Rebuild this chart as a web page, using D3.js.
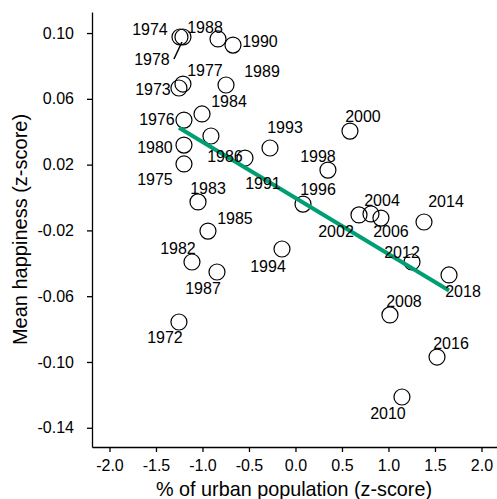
<!DOCTYPE html>
<html lang="en">
<head>
<meta charset="UTF-8">
<title>Urbanization and happiness</title>
<script src="https://d3js.org/d3.v7.min.js"></script>
<style>
  body { margin: 0; padding: 0; background: #fff; }
  svg { display: block; font-family: "Liberation Sans", Arial, sans-serif; }
  .axis path, .axis line { stroke: #000; stroke-width: 1.3; }
  .axis text { fill: #000; font-size: 16px; }
  .pt { fill: none; stroke: #000; stroke-width: 1.2; }
  .yr { font-size: 16px; fill: #000; }
</style>
</head>
<body>
<div id="chart"></div>
<script>
// survey years with urban population z-score and mean happiness z-score
const years = [1972, 1973, 1974, 1975, 1976, 1977, 1978, 1980, 1982, 1983, 1984,
  1985, 1986, 1987, 1988, 1989, 1990, 1991, 1993, 1994, 1996, 1998, 2000, 2002,
  2004, 2006, 2008, 2010, 2012, 2014, 2016, 2018];
const urban = [-1.253, -1.253, -1.242, -1.199, -1.199, -1.210, -1.210, -1.199, -1.113,
  -1.048, -1.005, -0.941, -0.909, -0.844, -0.833, -0.747, -0.672, -0.543, -0.274,
  -0.145, 0.081, 0.349, 0.586, 0.683, 0.812, 0.919, 1.016, 1.145, 1.253, 1.382,
  1.522, 1.651];
const happiness = [-0.0757, 0.0666, 0.0976, 0.0204, 0.0471, 0.0690, 0.0976, 0.0319,
  -0.0392, -0.0027, 0.0508, -0.0204, 0.0374, -0.0453, 0.0964, 0.0684, 0.0927,
  0.0240, 0.0301, -0.0313, -0.0040, 0.0167, 0.0404, -0.0106, -0.0100, -0.0125,
  -0.0714, -0.1213, -0.0392, -0.0149, -0.0970, -0.0471];
const xTicks = [-2.0, -1.5, -1.0, -0.5, 0.0, 0.5, 1.0, 1.5, 2.0];
const yTicks = [0.10, 0.06, 0.02, -0.02, -0.06, -0.10, -0.14];

// label placement (pixel offsets from each point, like ggrepel put them)
const labelPos = {
  1972: [-14, 15], 1973: [-26, 1], 1974: [-30, -8], 1975: [-29, 15], 1976: [-27, -1],
  1977: [22, -14], 1978: [-31, 22], 1980: [-29, 2], 1982: [-14, -14], 1983: [10, -14],
  1984: [27, -13], 1985: [27, -13], 1986: [14, 20], 1987: [-14, 16], 1988: [-13, -12],
  1989: [36, -14], 1990: [27, -4], 1991: [18, 25], 1993: [15, -21], 1994: [-14, 17],
  1996: [15, -15], 1998: [-10, -14], 2000: [13, -15], 2002: [-23, 16], 2004: [11, -14],
  2006: [10, 13], 2008: [14, -14], 2010: [-14, 16], 2012: [-10, -10], 2014: [22, -21],
  2016: [14, -14], 2018: [14, 16]
};

const data = years.map((y, i) => ({ year: y, x: urban[i], y: happiness[i] }));

const width = 497, height = 499;
const svg = d3.select("#chart").append("svg")
  .attr("width", width)
  .attr("height", height);

const x = d3.scaleLinear().domain([-2.188, 2.167]).range([92, 497]);
const y = d3.scaleLinear().domain([-0.1517, 0.1128]).range([447, 12]);

const fmt2 = d => d3.format(".2f")(d).replace("\u2212", "-");
const fmt1 = d => d3.format(".1f")(d).replace("\u2212", "-");

const xAxis = svg.append("g")
  .attr("class", "axis")
  .attr("transform", "translate(0,447)")
  .call(d3.axisBottom(x).tickValues(xTicks).tickFormat(fmt1).tickSize(5).tickPadding(8).tickSizeOuter(0));
xAxis.selectAll("text").attr("font-size", 16.5);

const yAxis = svg.append("g")
  .attr("class", "axis")
  .attr("transform", "translate(92,0)")
  .call(d3.axisLeft(y).tickValues(yTicks).tickFormat(fmt2).tickSize(5).tickPadding(13).tickSizeOuter(0));

// points
svg.selectAll(".pt")
  .data(data)
  .enter().append("circle")
  .attr("class", "pt")
  .attr("cx", d => x(d.x))
  .attr("cy", d => y(d.y))
  .attr("r", 8);

// linear fit
const mx = d3.mean(data, d => d.x), my = d3.mean(data, d => d.y);
const slope = d3.sum(data, d => (d.x - mx) * (d.y - my)) / d3.sum(data, d => (d.x - mx) ** 2);
const [x0, x1] = d3.extent(data, d => d.x);
const fit = [x0, x1].map(v => ({ x: v, y: my + slope * (v - mx) }));
svg.append("path")
  .datum(fit)
  .attr("fill", "none")
  .attr("stroke", "#009E73")
  .attr("stroke-width", 4)
  .attr("d", d3.line().x(d => x(d.x)).y(d => y(d.y)));

// segment for the crowded 1978 label
const p78 = data.find(d => d.year === 1978);
svg.append("line")
  .attr("x1", x(p78.x) - 9).attr("y1", y(p78.y) + 22)
  .attr("x2", x(p78.x) - 1).attr("y2", y(p78.y) + 5)
  .attr("stroke", "#000").attr("stroke-width", 1.5);

// year labels
svg.selectAll(".yr")
  .data(data)
  .enter().append("text")
  .attr("class", "yr")
  .attr("x", d => x(d.x) + labelPos[d.year][0])
  .attr("y", d => y(d.y) + labelPos[d.year][1])
  .attr("text-anchor", "middle")
  .attr("dy", "0.36em")
  .text(d => d.year);

// axis titles
svg.append("text")
  .attr("x", 294)
  .attr("y", 496)
  .attr("text-anchor", "middle")
  .attr("font-size", 19.8)
  .text("% of urban population (z-score)");

svg.append("text")
  .attr("transform", "translate(27,229.5) rotate(-90)")
  .attr("text-anchor", "middle")
  .attr("font-size", 20)
  .text("Mean happiness (z-score)");
</script>
</body>
</html>
